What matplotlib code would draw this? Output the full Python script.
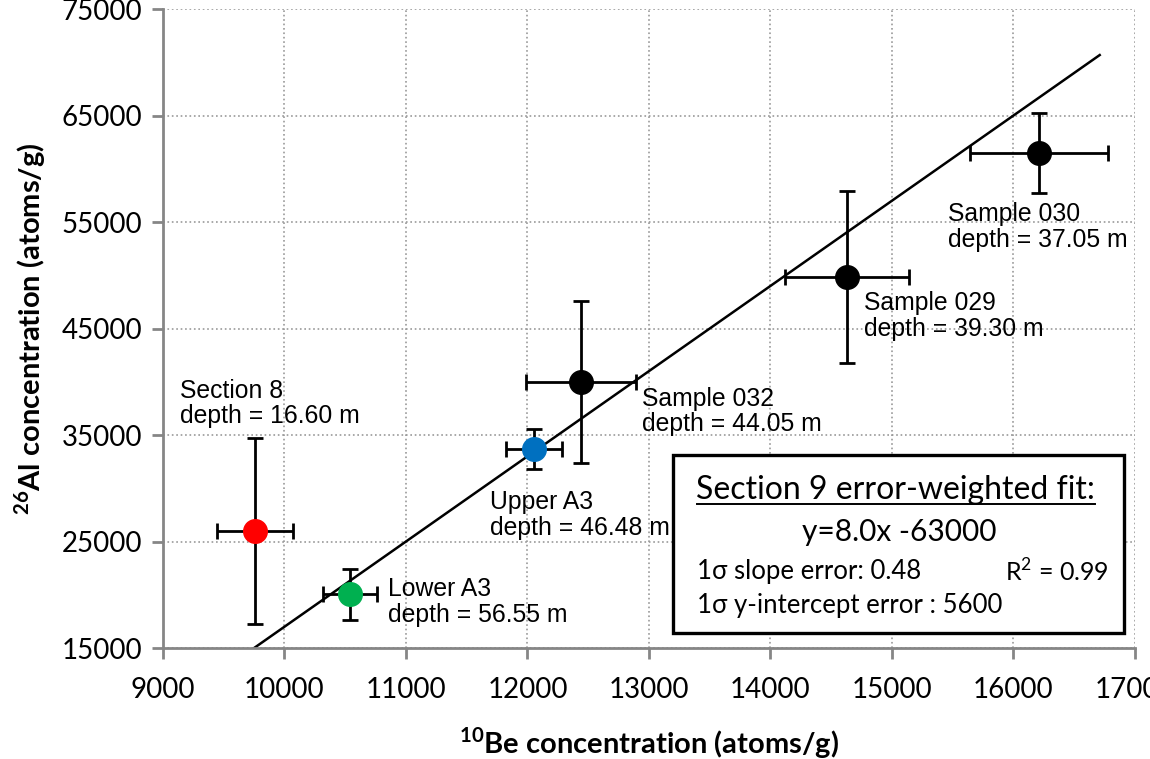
import numpy as np
import matplotlib
matplotlib.use('Agg')
import matplotlib.pyplot as plt
from matplotlib.patches import Rectangle

# mathtext superscripts in the same font as the labels
plt.rcParams['mathtext.fontset'] = 'custom'
plt.rcParams['mathtext.rm'] = 'Lato'
plt.rcParams['mathtext.bf'] = 'Lato:bold'

# sample data: 10Be and 26Al concentrations with 1 sigma errors
names = ['Section 8\ndepth = 16.60 m', 'Lower A3\ndepth = 56.55 m', 'Upper A3\ndepth = 46.48 m',
         'Sample 032\ndepth = 44.05 m', 'Sample 029\ndepth = 39.30 m', 'Sample 030\ndepth = 37.05 m']
be10 = [9757, 10540, 12053, 12440, 14630, 16210]
be10_err = [313, 220, 230, 450, 510, 570]
al26 = [26000, 20050, 33670, 39950, 49800, 61500]
al26_err = [8700, 2400, 1880, 7600, 8070, 3750]
colors = ['#ff0000', '#00b050', '#0070c0', 'black', 'black', 'black']

# label anchor (top-left) for each sample
label_x = [9140, 10852, 11691, 12942, 14770, 15461]
label_y = [40300, 21700, 29800, 39550, 48550, 56900]

# error-weighted fit y = 8.0x - 63000
fit_slope = 8.0
fit_intercept = -63000
fit_x = [9750, 16710]

x_ticks = [9000, 10000, 11000, 12000, 13000, 14000, 15000, 16000, 17000]
y_ticks = [15000, 25000, 35000, 45000, 55000, 65000, 75000]

fig = plt.figure(figsize=(11.5, 7.59), dpi=100)
ax = fig.add_axes([0.1417, 0.1462, 0.8452, 0.8419])

# fit line
fx = np.array(fit_x)
ax.plot(fx, fit_slope * fx + fit_intercept, color='black', lw=1.8, zorder=2)

for i in range(len(be10)):
    ax.errorbar(be10[i], al26[i], xerr=be10_err[i], yerr=al26_err[i],
                fmt='o', ms=17, mfc=colors[i], mec=colors[i], ecolor='black',
                elinewidth=2, capsize=5.5, capthick=2, zorder=3)
    ax.text(label_x[i], label_y[i], names[i], fontsize=17.8, family='Liberation Sans',
            va='top', ha='left', linespacing=1.1, zorder=4)

ax.set_xlim(9000, 17000)
ax.set_ylim(15000, 75000)
ax.set_xticks(x_ticks)
ax.set_yticks(y_ticks)
ax.tick_params(axis='both', direction='out', length=8, width=2, color='#868686',
               labelsize=20)
ax.tick_params(axis='x', pad=13)
ax.tick_params(axis='y', pad=7)
for lab in ax.get_xticklabels() + ax.get_yticklabels():
    lab.set_family('Lato')

ax.grid(True, linestyle=':', color='#999999', lw=1.2)
ax.set_axisbelow(True)
for side in ['top', 'right']:
    ax.spines[side].set_visible(False)
for side in ['left', 'bottom']:
    ax.spines[side].set_color('#868686')
    ax.spines[side].set_linewidth(2)

ax.set_xlabel(r'$^{\mathbf{10}}$Be concentration (atoms/g)', fontsize=21, fontweight='bold',
              family='Lato', labelpad=16)
ax.set_ylabel(r'$^{\mathbf{26}}$Al concentration (atoms/g)', fontsize=21, fontweight='bold',
              family='Lato', labelpad=10)

# fit info box
ax.add_patch(Rectangle((0.5247, 0.0235), 0.464, 0.2785, transform=ax.transAxes,
                       facecolor='white', edgecolor='black', lw=2.4, zorder=5))
ax.text(0.754, 0.247, 'Section 9 error-weighted fit:', transform=ax.transAxes,
        ha='center', va='center', fontsize=23, family='Lato', zorder=6)
ax.plot([0.549, 0.959], [0.226, 0.226], transform=ax.transAxes, color='black', lw=1.4, zorder=6)
ax.text(0.758, 0.1815, 'y=8.0x -63000', transform=ax.transAxes,
        ha='center', va='center', fontsize=21.5, family='Lato', zorder=6)
ax.text(0.549, 0.119, '1σ slope error: 0.48', transform=ax.transAxes,
        ha='left', va='center', fontsize=18.5, family=['Lato', 'DejaVu Sans'], zorder=6)
ax.text(0.973, 0.119, r'R$^2$ = 0.99', transform=ax.transAxes,
        ha='right', va='center', fontsize=18, family='Lato', zorder=6)
ax.text(0.549, 0.0673, '1σ y-intercept error : 5600', transform=ax.transAxes,
        ha='left', va='center', fontsize=18.5, family=['Lato', 'DejaVu Sans'], zorder=6)

plt.savefig('out.png', dpi=100)
